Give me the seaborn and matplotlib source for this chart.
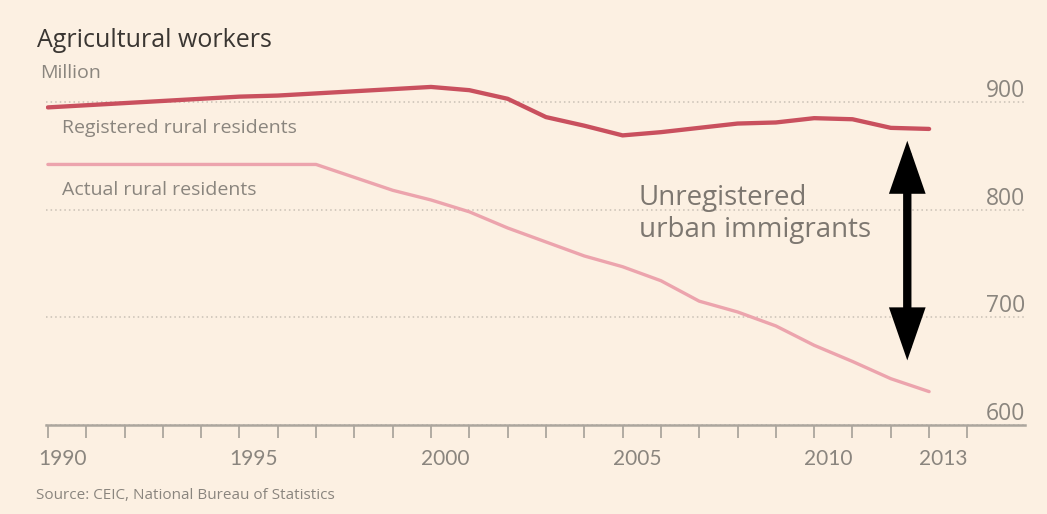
import numpy as np
import pandas as pd
import matplotlib.pyplot as plt
import matplotlib.transforms as mtransforms
import seaborn as sns

# values, million people
years = list(range(1990, 2014))
registered = [895, 897, 899, 901, 903, 905, 906, 908, 910, 912, 914, 911,
              903, 886, 878, 869, 872, 876, 880, 881, 885, 884, 876, 875]
actual = [842, 842, 842, 842, 842, 842, 842, 842, 830, 818, 809, 798,
          783, 770, 757, 747, 734, 715, 705, 692, 674, 659, 643, 631]
y_ticks = [600, 700, 800, 900]
x_labels = [1990, 1995, 2000, 2005, 2010, 2013]

bg = '#fcf0e2'
grey = '#8a857e'
sns.set_style('white', {'axes.facecolor': bg, 'figure.facecolor': bg})
plt.rcParams['font.family'] = ['Open Sans', 'DejaVu Sans']

df = pd.DataFrame({'year': years, 'registered': registered, 'actual': actual})

fig = plt.figure(figsize=(10.47, 5.14), dpi=100)
ax = fig.add_axes([0.0439, 0.1732, 0.935, 0.710])

sns.lineplot(data=df, x='year', y='registered', ax=ax, color='#c9505e', lw=3.1)
sns.lineplot(data=df, x='year', y='actual', ax=ax, color='#eca4ad', lw=2.4)

ax.set_xlim(1989.95, 2015.5)
ax.set_ylim(600, 939)
ax.set_xlabel('')
ax.set_ylabel('')

for s in ['top', 'left', 'right']:
    ax.spines[s].set_visible(False)
ax.spines['bottom'].set_color('#aca69e')
ax.spines['bottom'].set_linewidth(1.8)

# y grid, labels sit above the lines at the right
ax.set_yticks(y_ticks)
ax.yaxis.grid(True, color='#c9c0b5', linestyle=(0, (1, 2)), lw=1.1)
ax.tick_params(axis='y', left=False, labelleft=False)
for v in y_ticks:
    ax.text(1.0, v + 4.5, str(v), transform=ax.get_yaxis_transform(),
            ha='right', va='baseline', fontsize=16.5, color=grey)

# yearly ticks, a few labels
ax.set_xticks(range(1990, 2015))
ax.set_xticklabels([str(y) if y in x_labels else '' for y in range(1990, 2015)],
                   family=['Lato', 'DejaVu Sans'])
ax.tick_params(axis='x', bottom=True, direction='out', length=9, width=1.3,
               color='#aca69e', labelsize=15, labelcolor=grey, pad=8)
offset = mtransforms.ScaledTranslation(-0.10, 0, fig.dpi_scale_trans)
for lbl in ax.get_xticklabels():
    lbl.set_ha('left')
    lbl.set_transform(lbl.get_transform() + offset)

# series labels
fig.text(0.0593, 0.741, 'Registered rural residents', fontsize=14, color=grey, va='baseline')
fig.text(0.0593, 0.621, 'Actual rural residents', fontsize=14, color=grey, va='baseline')

# gap annotation
ax.annotate('', xy=(2012.43, 660), xytext=(2012.43, 864),
            arrowprops=dict(arrowstyle='<|-|>,head_length=1.3,head_width=0.45',
                            lw=6, color='black', shrinkA=0, shrinkB=0,
                            mutation_scale=20, joinstyle='miter', capstyle='butt'))
fig.text(0.610, 0.6012, 'Unregistered', fontsize=20, color='#7d7770', va='baseline')
fig.text(0.610, 0.5389, 'urban immigrants', fontsize=20, color='#7d7770', va='baseline')

# titles and source
fig.text(0.035, 0.9086, 'Agricultural workers', fontsize=18, color='#3a3632', va='baseline')
fig.text(0.038, 0.848, 'Million', fontsize=14, color=grey, va='baseline')
fig.text(0.034, 0.029, 'Source: CEIC, National Bureau of Statistics', fontsize=11,
         color=grey, va='baseline')

fig.savefig('out.png', dpi=100, facecolor=bg)
